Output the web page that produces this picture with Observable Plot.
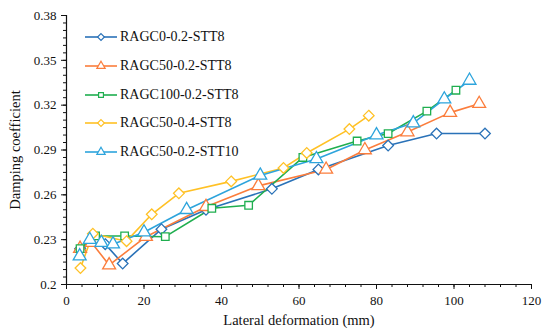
<!DOCTYPE html>
<html><head><meta charset="utf-8">
<script src="https://cdn.jsdelivr.net/npm/d3@7"></script>
<script src="https://cdn.jsdelivr.net/npm/@observablehq/plot@0.6"></script>
<style>
body{margin:0;background:#fff;}
#wrap{position:relative;width:550px;height:334px;font-family:"Liberation Serif","Times New Roman",serif;}
#legend{position:absolute;left:84px;top:23px;font-size:14px;color:#111;}
.row{display:flex;align-items:center;height:28.7px;}
.row svg{margin-right:2px;}
</style></head>
<body><div id="wrap"><div id="legend"></div></div>
<script>
const seriesNames = ["RAGC0-0.2-STT8","RAGC50-0.2-STT8","RAGC100-0.2-STT8","RAGC50-0.4-STT8","RAGC50-0.2-STT10"];
const colors = ["#2a72b8","#fb7d3c","#1fae4f","#ffc125","#2da4dc"];
const symbols = ["diamond2","triangle","square2","diamond2","triangle"];

const x1 = [3.5,7.5,10,14.5,24.5,36,53,65,83,95.5,108];
const y1 = [0.224,0.229,0.227,0.214,0.237,0.250,0.264,0.277,0.293,0.301,0.301];
const x2 = [3.5,6.5,11,20.5,36,49.5,67,77,88,99,106.5];
const y2 = [0.224,0.228,0.213,0.232,0.252,0.266,0.277,0.290,0.302,0.315,0.321];
const x3 = [3.5,7.5,15,25.5,37.5,47,61,75,83,93,100.5];
const y3 = [0.224,0.2325,0.2325,0.232,0.251,0.253,0.285,0.296,0.301,0.316,0.330];
const x4 = [3.6,6.8,15.5,22,29,42.5,56,62,73,78];
const y4 = [0.211,0.234,0.229,0.247,0.261,0.269,0.278,0.288,0.304,0.313];
const x5 = [3.4,6,9,12,20,31,50,64.5,80,89.5,97.5,104];
const y5 = [0.219,0.230,0.228,0.227,0.235,0.250,0.273,0.284,0.300,0.308,0.324,0.3365];

const xTicks = [0,20,40,60,80,100,120];
const yTicks = [0.2,0.23,0.26,0.29,0.32,0.35,0.38];
const xMinor = d3.range(0,121,4);
const yMinor = d3.range(0,37).map(i=>+(0.2+i*0.005).toFixed(3));

const xs=[x1,x2,x3,x4,x5], ys=[y1,y2,y3,y4,y5];
const data = seriesNames.flatMap((s,i)=>xs[i].map((x,j)=>({s,x,y:ys[i][j]})));

const font = "Liberation Serif";
const plot = Plot.plot({
  width:550, height:334,
  marginLeft:66, marginRight:19, marginTop:15, marginBottom:50,
  style:{fontFamily:font, fontSize:"13px", color:"#111", background:"white"},
  x:{domain:[0,120]},
  y:{domain:[0.2,0.38]},
  color:{domain:seriesNames, range:colors},
  symbol:{domain:seriesNames, range:symbols},
  marks:[
    Plot.axisX({ticks:xMinor, tickSize:3, tickFormat:()=>"", label:null, stroke:"#111"}),
    Plot.axisX({ticks:xTicks, tickSize:5, tickPadding:6, tickFormat:d3.format("d"), label:"Lateral deformation (mm)", labelAnchor:"center", labelArrow:"none", labelOffset:40, fontSize:13, stroke:"#111"}),
    Plot.axisY({ticks:yMinor, tickSize:3, tickFormat:()=>"", label:null, stroke:"#111"}),
    Plot.axisY({ticks:yTicks, tickSize:5, tickPadding:5, fontSize:13, tickFormat:d=>String(+d.toFixed(2)), label:"Damping coefficient", labelAnchor:"center", labelArrow:"none", labelOffset:57, stroke:"#111"}),
    Plot.ruleX([0],{stroke:"#111", strokeWidth:1.2}),
    Plot.ruleY([0.2],{stroke:"#111", strokeWidth:1.2}),
    Plot.line(data,{x:"x",y:"y",z:"s",stroke:"s",strokeWidth:1.6}),
    Plot.dot(data,{x:"x",y:"y",symbol:"s",stroke:"s",fill:"white",r:4.8,strokeWidth:1.3})
  ]
});
plot.querySelectorAll('[aria-label="x-axis label"] text, [aria-label="y-axis label"] text').forEach(t=>t.style.fontSize="14.5px");
document.getElementById("wrap").prepend(plot);

const leg = document.getElementById("legend");
seriesNames.forEach((s,i)=>{
  const row=document.createElement("div"); row.className="row";
  const sym=d3.symbol(Plot.scale({symbol:{domain:seriesNames,range:symbols}}).apply(s), 30)();
  row.innerHTML=`<svg width="34" height="12"><line x1="1" y1="6" x2="33" y2="6" stroke="${colors[i]}" stroke-width="1.6"/><path transform="translate(17,6)" d="${sym}" fill="white" stroke="${colors[i]}" stroke-width="1.2"/></svg><span>${s}</span>`;
  leg.appendChild(row);
});
</script></body></html>
